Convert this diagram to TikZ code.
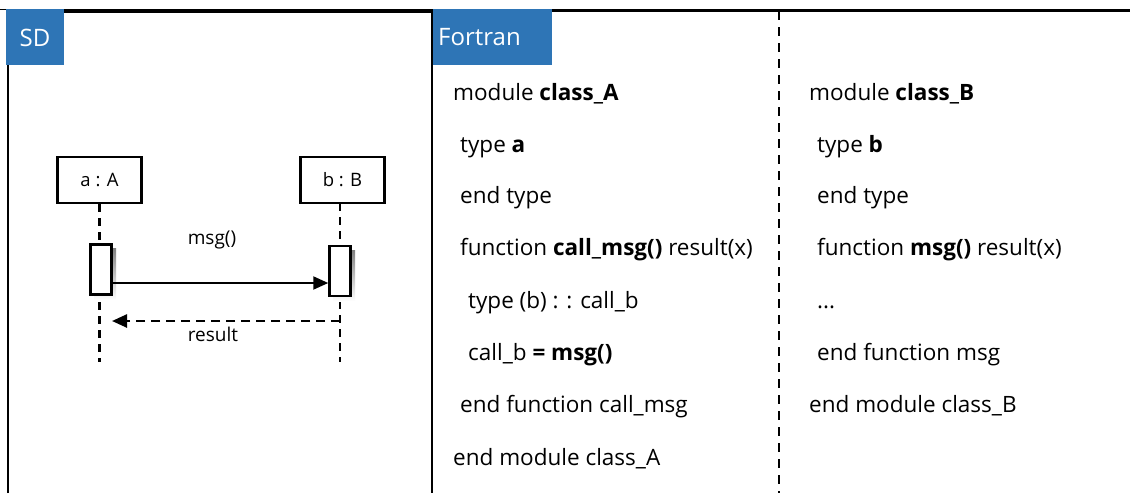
\documentclass[tikz,border=0pt]{standalone}
\usepackage{fontspec}
\setmainfont{Open Sans}
\usetikzlibrary{arrows.meta}
\definecolor{tabblue}{RGB}{46,117,182}
\definecolor{shade}{RGB}{195,195,195}
\tikzset{
  frameline/.style={line width=2.8pt, black},
  tab/.style={fill=tabblue, draw=none},
  tabtext/.style={text=white, font=\fontsize{24}{28}\selectfont, inner sep=0pt},
  codetext/.style={anchor=base west, inner sep=0pt, font=\fontsize{22.5}{26}\selectfont},
  objbox/.style={draw, line width=2.5pt, minimum width=84pt, minimum height=46pt, fill=white,
    font=\fontsize{18.5}{22}\selectfont},
  actbar/.style={draw, line width=2.5pt, fill=white, minimum width=21pt, minimum height=50pt, inner sep=0pt},
  lifeline/.style={line width=2.5pt, dash pattern=on 8pt off 6pt},
  seplabel/.style={font=\fontsize{19}{22}\selectfont, inner sep=1pt},
  callarrow/.style={line width=2pt, -{Triangle[length=15pt,width=13pt]}},
  returnarrow/.style={line width=2.5pt, dash pattern=on 9pt off 6pt, -{Triangle[length=15pt,width=13pt]}},
  divider/.style={line width=2.8pt, dash pattern=on 9pt off 7pt}
}
\begin{document}
\begin{tikzpicture}[x=1pt,y=-1pt]
\useasboundingbox (0,0) rectangle (1130,493);
\fill[white] (0,0) rectangle (1130,493);

% thin grey rule along the top of the left panel
\draw[shade, line width=1pt] (0,9.5) -- (432,9.5);

% left (sequence diagram) panel and right (code) panel frames
\draw[frameline] (8,493) -- (8,11.5) -- (432,11.5) -- (432,493);
\draw[frameline] (432,10.5) -- (1130,10.5);

% panel tabs
\fill[tab] (6,9) rectangle (64,65);
\node[tabtext] (sdlabel) at (35,38) {SD};
\fill[tab] (433,9) rectangle (552,65);
\node[tabtext, anchor=west] (fortranlabel) at (438,37) {Fortran};

% dashed divider between the two modules
\coordinate (divtop) at (779,11);
\coordinate (divbot) at (779,493);
\draw[divider] (divtop) -- (divbot);

% sequence diagram: objects
\node[objbox] (objA) at (99.5,180) {a : A};
\node[objbox] (objB) at (342.5,180) {b : B};

% lifeline ends
\coordinate (endA) at (99.5,362);
\coordinate (endB) at (340,362);

% lifelines
\draw[lifeline] (objA.south) -- (endA);
\draw[lifeline] (340,203) -- (endB);

% activation shadows and bars
\fill[shade] (94,248) rectangle (116,300);
\fill[shade] (333,250) rectangle (355,301);
\node[actbar] (actA) at (101,269.5) {};
\node[actbar] (actB) at (340,271) {};

% messages
\draw[callarrow] (actA.east |- 0,283) -- (actB.west |- 0,283);
\node[seplabel] (msglabel) at (212,240) {msg()};
\coordinate (retstart) at (340,321);
\coordinate (retend) at (112,321);
\draw[returnarrow] (retstart) -- (retend);
\node[seplabel] (reslabel) at (213,334) {result};

% module class_A
\node[codetext] (a1) at (453,100) {module \textbf{class\_A}};
\node[codetext] (a2) at (460,152) {type \textbf{a}};
\node[codetext] (a3) at (460,203.5) {end type};
\node[codetext] (a4) at (460,255.5) {function \textbf{call\_msg()} result(x)};
\node[codetext] (a5) at (468,308) {type (b) : : call\_b};
\node[codetext] (a6) at (468,360) {call\_b \textbf{= msg()}};
\node[codetext] (a7) at (460,412) {end function call\_msg};
\node[codetext] (a8) at (453,465) {end module class\_A};

% module class_B
\node[codetext] (b1) at (809,100) {module \textbf{class\_B}};
\node[codetext] (b2) at (817,152) {type \textbf{b}};
\node[codetext] (b3) at (817,203.5) {end type};
\node[codetext] (b4) at (817,255.5) {function \textbf{msg()} result(x)};
\node[codetext] (b5) at (817,308) {...};
\node[codetext] (b6) at (817,360) {end function msg};
\node[codetext] (b7) at (809,412) {end module class\_B};
\end{tikzpicture}
\end{document}
